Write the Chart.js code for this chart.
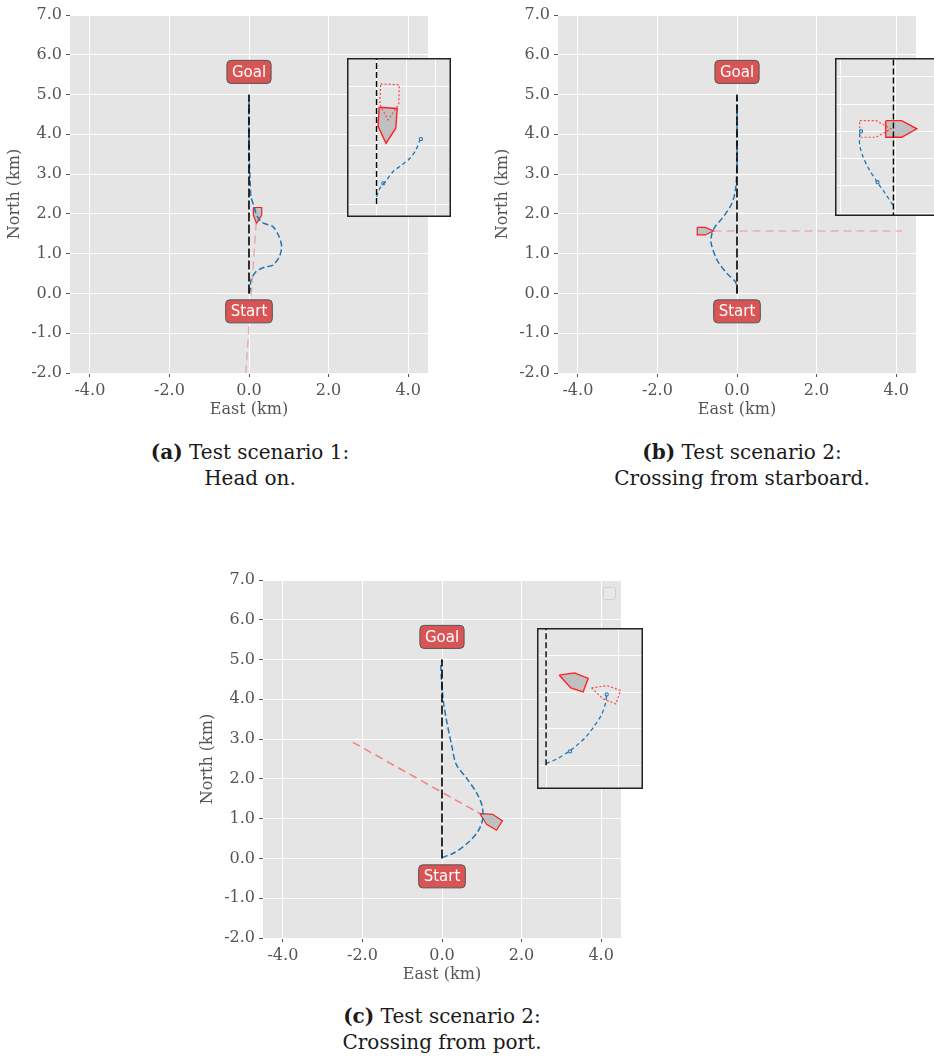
<!DOCTYPE html>
<html lang="en">
<head>
<meta charset="UTF-8">
<title>Test scenarios</title>
<script src="https://cdn.jsdelivr.net/npm/chart.js"></script>
<style>
  body { margin: 0; width: 934px; height: 1057px; overflow: hidden; background: #fff; position: relative; }
  canvas { position: absolute; }
  .cap { position: absolute; width: 420px; text-align: center; font-family: "DejaVu Serif", serif;
         font-size: 20px; line-height: 26px; color: #1a1a1a; }
</style>
</head>
<body>
<canvas id="chartA" width="440" height="425" style="left:0;top:0"></canvas>
<canvas id="chartB" width="440" height="425" style="left:488px;top:0"></canvas>
<canvas id="chartC" width="440" height="425" style="left:193px;top:565px"></canvas>
<canvas id="insetA" width="104" height="159" style="left:347px;top:58px"></canvas>
<canvas id="insetB" width="104" height="158" style="left:835px;top:58px"></canvas>
<canvas id="insetC" width="106" height="161" style="left:537px;top:628px"></canvas>

<div class="cap" style="left:40px;top:439px"><b>(a)</b> Test scenario 1:<br>Head on.</div>
<div class="cap" style="left:532px;top:439px"><b>(b)</b> Test scenario 2:<br>Crossing from starboard.</div>
<div class="cap" style="left:232px;top:1003px"><b>(c)</b> Test scenario 2:<br>Crossing from port.</div>

<script>
// axis ticks (km)
const eastTicks = [-4, -2, 0, 2, 4];
const northTicks = [-2, -1, 0, 1, 2, 3, 4, 5, 6, 7];
const tagText = ['Goal', 'Start'];
const tagNorth = [5.57, -0.45];

// scenario 1: head on
const pathA = [[0, 0], [0, 5]];
const ownA = [[0, 0], [0.03, 0.09], [0.05, 0.34], [0.18, 0.55], [0.39, 0.66], [0.6, 0.71], [0.76, 0.92],
  [0.82, 1.17], [0.76, 1.42], [0.6, 1.68], [0.34, 1.78], [0.2, 1.95], [0.13, 2.18], [0.05, 2.43],
  [0.03, 2.77], [0.01, 3.3], [0, 4.0], [0, 4.95]];
const predA = [[0.18, 1.78], [-0.08, -2.0]];
const shipA = [[0.11, 2.16], [0.32, 2.16], [0.32, 1.97], [0.19, 1.76], [0.11, 1.97], [0.11, 2.16]];

// scenario 2: crossing from starboard
const pathB = [[0, 0], [0, 5]];
const ownB = [[0, 0], [0, 0.08], [-0.04, 0.29], [-0.25, 0.5], [-0.5, 0.84], [-0.65, 1.26], [-0.63, 1.51],
  [-0.55, 1.68], [-0.34, 1.93], [-0.13, 2.26], [-0.04, 2.6], [0, 3.2], [0, 4.0], [0, 4.95]];
const predB = [[-0.59, 1.57], [4.15, 1.57]];
const shipB = [[-1.0, 1.66], [-0.8, 1.66], [-0.59, 1.57], [-0.8, 1.47], [-1.0, 1.47], [-1.0, 1.66]];

// scenario 3: crossing from port
const pathC = [[0, 0], [0, 5]];
const ownC = [[0, 0.02], [0.32, 0.15], [0.66, 0.4], [0.91, 0.69], [1.02, 0.98], [1.01, 1.32], [0.87, 1.65],
  [0.61, 2.03], [0.36, 2.36], [0.24, 2.86], [0.11, 3.49], [0.03, 3.99], [-0.03, 4.83], [0, 5]];
const predC = [[-2.24, 2.92], [0.95, 1.13]];
const shipC = [[0.95, 1.13], [1.27, 1.11], [1.52, 0.95], [1.37, 0.71], [1.12, 0.86], [0.95, 1.13]];

// insets (zoomed local units)
const insPathA = [[0, 0], [0, 6]];
const insOwnA = [[0, 0.25], [0.11, 0.53], [0.34, 0.81], [0.56, 1.1], [0.85, 1.32], [1.13, 1.55], [1.33, 1.83], [1.47, 2.17]];
const insMarkA = [[0.23, 0.7], [1.5, 2.2]];
const insGhostA = [[0.14, 4.07], [0.77, 4.04], [0.75, 3.38], [0.39, 2.85], [0.11, 3.38], [0.14, 4.07]];
const insShipA = [[0.09, 3.28], [0.7, 3.24], [0.65, 2.57], [0.32, 2.06], [0.05, 2.64], [0.09, 3.28]];

const insPathB = [[-0.06, -0.2], [-0.06, 6]];
const insOwnB = [[-0.08, 0.29], [-0.36, 0.72], [-0.66, 1.15], [-0.97, 1.64], [-1.17, 2.07], [-1.29, 2.5], [-1.29, 2.87], [-1.24, 3.05]];
const insMarkB = [[-0.64, 1.13], [-1.24, 3.0]];
const insGhostB = [[-1.29, 3.39], [-0.69, 3.39], [-0.15, 3.09], [-0.69, 2.78], [-1.29, 2.78], [-1.29, 3.39]];
const insShipB = [[-0.34, 3.39], [0.24, 3.39], [0.79, 3.09], [0.24, 2.78], [-0.34, 2.78], [-0.34, 3.39]];

const insPathC = [[0, 0], [0, 5]];
const insOwnC = [[0, 0.05], [0.29, 0.17], [0.57, 0.34], [0.84, 0.54], [1.11, 0.79], [1.34, 1.09], [1.53, 1.39], [1.64, 1.71], [1.67, 1.94]];
const insMarkC = [[0.66, 0.38], [1.67, 1.94]];
const insGhostC = [[1.25, 2.12], [1.68, 2.18], [2.05, 2.05], [1.92, 1.68], [1.57, 1.82], [1.25, 2.12]];
const insShipC = [[0.36, 2.47], [0.78, 2.53], [1.16, 2.38], [1.02, 2.01], [0.68, 2.12], [0.36, 2.47]];

const BG = '#e5e5e5';
const SERIF = 'DejaVu Serif';

function xy(arr) { return arr.map(p => ({ x: p[0], y: p[1] })); }

function line(points, color, dash, width, extra) {
  return Object.assign({
    data: xy(points), showLine: true, borderColor: color, borderWidth: width,
    borderDash: dash, pointRadius: 0, fill: false, tension: 0
  }, extra || {});
}

const bgPlugin = {
  id: 'bg',
  beforeDraw(chart) {
    const a = chart.chartArea, ctx = chart.ctx;
    ctx.save();
    ctx.fillStyle = BG;
    ctx.fillRect(a.left, a.top, a.right - a.left, a.bottom - a.top);
    ctx.restore();
  }
};

const tagPlugin = {
  id: 'tags',
  afterDatasetsDraw(chart) {
    const ctx = chart.ctx, xs = chart.scales.x, ys = chart.scales.y;
    ctx.save();
    ctx.font = '15px "DejaVu Sans"';
    tagText.forEach((t, i) => {
      const px = xs.getPixelForValue(0), py = ys.getPixelForValue(tagNorth[i]);
      const w = ctx.measureText(t).width + 10, h = 23;
      ctx.beginPath();
      ctx.roundRect(px - w / 2, py - h / 2, w, h, 4);
      ctx.fillStyle = '#d95555';
      ctx.fill();
      ctx.strokeStyle = '#555';
      ctx.lineWidth = 1;
      ctx.stroke();
      ctx.fillStyle = '#fff';
      ctx.textAlign = 'center';
      ctx.textBaseline = 'middle';
      ctx.fillText(t, px, py + 1);
    });
    ctx.restore();
  }
};

// empty legend box drawn in scenario 3
const emptyLegend = {
  id: 'emptyLegend',
  afterDraw(chart) {
    const a = chart.chartArea, ctx = chart.ctx;
    ctx.save();
    ctx.beginPath();
    ctx.roundRect(a.right - 17.5, a.top + 7.5, 12, 12, 2);
    ctx.fillStyle = '#e9e9e9';
    ctx.fill();
    ctx.strokeStyle = '#d0d0d0';
    ctx.lineWidth = 1;
    ctx.stroke();
    ctx.restore();
  }
};

const frame = {
  id: 'frame',
  afterDraw(chart) {
    const ctx = chart.ctx;
    ctx.save();
    ctx.strokeStyle = '#222';
    ctx.lineWidth = 1.5;
    ctx.strokeRect(0.75, 0.75, chart.width - 1.5, chart.height - 1.5);
    ctx.restore();
  }
};

function mainAxis(ticks, min, max, title, horizontal) {
  return {
    type: 'linear', min: min, max: max,
    afterBuildTicks: s => { s.ticks = ticks.map(v => ({ value: v })); },
    afterFit: s => { if (horizontal) s.height = 52; else s.width = 70; },
    ticks: { callback: v => v.toFixed(1), color: '#555', font: { family: SERIF, size: 16 }, padding: 4,
             autoSkip: false, maxRotation: 0 },
    grid: { color: '#fff', lineWidth: 1, tickColor: '#555', tickLength: 4, tickWidth: 1 },
    border: { display: false },
    title: { display: true, text: title, color: '#555', font: { family: SERIF, size: 16 },
             padding: horizontal ? { top: 4, bottom: 6 } : { top: 5, bottom: 4 } }
  };
}

function mainChart(id, path, own, pred, predColor, ship, extraPlugins) {
  new Chart(document.getElementById(id), {
    type: 'scatter',
    data: {
      datasets: [
        line(pred, predColor, [8, 5], 1.5),
        line(path, '#000', [9, 3], 1.6),
        line(own, '#1f77b4', [6, 3], 1.5, { tension: 0.3 }),
        line(ship, '#ee2222', [], 1.2, { fill: 'shape', backgroundColor: '#c0c0c0' })
      ]
    },
    options: {
      responsive: false, animation: false,
      layout: { padding: { top: 15, right: 12, left: 0, bottom: 0 } },
      plugins: { legend: { display: false }, tooltip: { enabled: false } },
      scales: {
        x: mainAxis(eastTicks, -4.5, 4.5, 'East (km)', true),
        y: mainAxis(northTicks, -2, 7, 'North (km)', false)
      }
    },
    plugins: [bgPlugin, tagPlugin].concat(extraPlugins || [])
  });
}

function insetAxis(ticks, min, max) {
  return {
    type: 'linear', min: min, max: max,
    afterBuildTicks: s => { s.ticks = ticks.map(v => ({ value: v })); },
    afterFit: s => { if (s.isHorizontal()) s.height = 0; else s.width = 0; },
    ticks: { display: false },
    grid: { color: 'rgba(255,255,255,0.95)', lineWidth: 1, drawTicks: false },
    border: { display: false }
  };
}

function insetChart(id, xr, yr, xg, yg, path, own, mark, ghost, ship) {
  new Chart(document.getElementById(id), {
    type: 'scatter',
    data: {
      datasets: [
        line(path, '#000', [6, 3], 1.4),
        line(own, '#1f77b4', [4, 3], 1.3, { tension: 0.3 }),
        { data: xy(mark), pointStyle: 'rect', pointRadius: 2, borderColor: '#1f77b4', borderWidth: 1,
          backgroundColor: 'rgba(0,0,0,0)', showLine: false },
        line(ghost, '#ff4444', [2, 2], 1.2),
        line(ship, '#ff2020', [], 1.4, { fill: 'shape', backgroundColor: '#c0c0c0' })
      ]
    },
    options: {
      responsive: false, animation: false,
      layout: { padding: 0, autoPadding: false },
      plugins: { legend: { display: false }, tooltip: { enabled: false } },
      scales: { x: insetAxis(xg, xr[0], xr[1]), y: insetAxis(yg, yr[0], yr[1]) }
    },
    plugins: [bgPlugin, frame]
  });
}

mainChart('chartA', pathA, ownA, predA, 'rgba(240,120,120,0.55)', shipA);
mainChart('chartB', pathB, ownB, predB, 'rgba(240,120,120,0.5)', shipB);
mainChart('chartC', pathC, ownC, predC, '#f08080', shipC, [emptyLegend]);

insetChart('insetA', [-1.0, 2.52], [-0.44, 4.95], [-1, 0, 1, 2], [0, 1, 2, 3, 4],
  insPathA, insOwnA, insMarkA, insGhostA, insShipA);
insetChart('insetB', [-2.19, 1.6], [-0.11, 5.69], [-2, 0], [0, 1, 2, 3, 4, 5],
  insPathB, insOwnB, insMarkB, insGhostB, insShipB);
insetChart('insetC', [-0.25, 2.67], [-0.65, 3.76], [0, 2], [0, 1, 2, 3],
  insPathC, insOwnC, insMarkC, insGhostC, insShipC);
</script>
</body>
</html>
